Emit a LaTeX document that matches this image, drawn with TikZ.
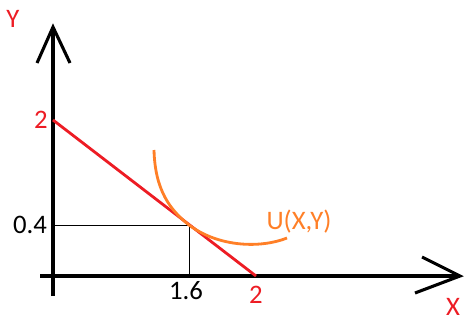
\documentclass[tikz,border=0pt]{standalone}
\usepackage{fontspec}
\setmainfont{Carlito}
\definecolor{paintred}{RGB}{237,28,36}
\definecolor{paintorange}{RGB}{255,127,39}
\begin{document}
\begin{tikzpicture}[x=0.025cm, y=-0.025cm, every node/.style={font=\fontsize{19}{22}\selectfont}]
    \useasboundingbox (0,0) rectangle (464,323);
    
    % Achsen
    \draw[line width=2.2pt, black] (53,296) -- (53,27);
    \draw[line width=2.2pt, black] (40,276) -- (460,276);
    \draw[line width=2.2pt, black, line join=miter] (37,63) -- (53,27) -- (70,63);
    \draw[line width=2.2pt, black, line join=miter] (422,257) -- (460,276) -- (415,293);
    
    % Hilfslinien
    \draw[thin, black] (53,225) -- (189,225) -- (189,276);
    
    % Budgetgerade
    \draw[line width=2pt, paintred] (53,120) -- (256,276);
    
    % Nutzenkurve
    \draw[line width=2pt, paintorange] (154,150) .. controls (155,190) and (170,210) .. (189,225)
        .. controls (220,248) and (262,248) .. (287,238);
    
    \node[text=paintred, inner sep=1pt] (ylab) at (13,19) {Y};
    \node[text=paintred, inner sep=1pt] (xlab) at (453,307) {X};
    \node[text=paintred] (ytwo) at (41,120) {2};
    \node[text=paintred] (xtwo) at (256,295) {2};
    \node (yval) at (30,225) {0.4};
    \node (xval) at (186,291) {1.6};
    \node[text=paintorange] (ulab) at (299,222) {U(X,Y)};
\end{tikzpicture}
\end{document}
